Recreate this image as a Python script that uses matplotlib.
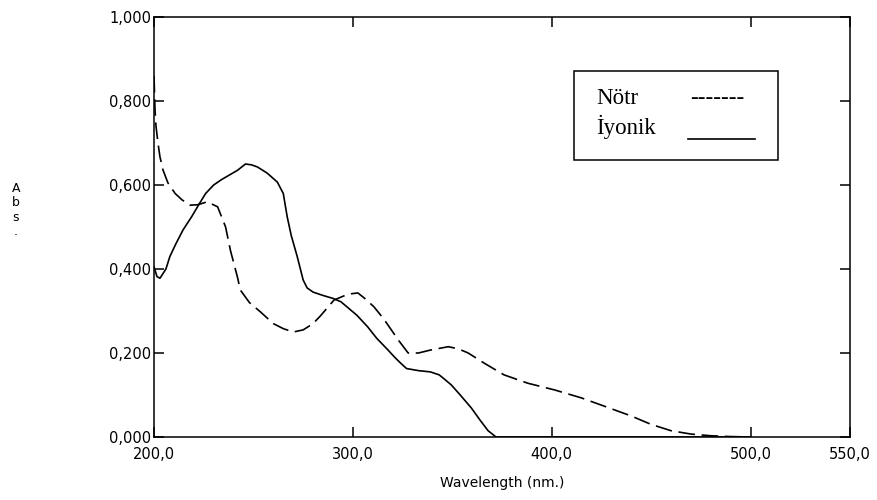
import matplotlib.pyplot as plt
from matplotlib.ticker import FuncFormatter

# Iyonik (solid)
iyonik_x = [200, 201.5, 203, 206, 208, 211, 214.6, 219, 223, 226, 230, 234, 238, 242, 246, 249,
            252, 257, 262, 265, 267, 269, 272, 275, 277, 280, 285, 290, 294, 297, 302, 307.5,
            312, 317.7, 321, 324, 327, 333, 339, 343.4, 346, 349.5, 354, 359.6, 364, 368, 372,
            380, 400, 450, 500]
iyonik_y = [0.405, 0.382, 0.378, 0.40, 0.43, 0.46, 0.493, 0.525, 0.557, 0.58, 0.60, 0.613, 0.624,
            0.635, 0.65, 0.648, 0.643, 0.628, 0.607, 0.58, 0.524, 0.48, 0.43, 0.374, 0.355, 0.345,
            0.337, 0.33, 0.322, 0.31, 0.29, 0.262, 0.235, 0.207, 0.19, 0.176, 0.163, 0.158, 0.155,
            0.148, 0.138, 0.124, 0.1, 0.069, 0.04, 0.015, 0.0, 0.0, 0.0, 0.0, 0.0]

# Notr (dashed)
notr_x = [200, 200.5, 201, 202, 203, 204.5, 207, 210.6, 214, 218, 222, 226.8, 232, 236, 238.4,
          242, 243.4, 248, 253.5, 260, 265, 270, 275, 280, 284, 290.5, 297.5, 302.5, 306, 310.6,
          315.7, 323, 327.8, 333, 339, 348, 353, 358, 366, 376, 388, 401.5, 415, 429, 440, 450,
          460, 470, 480, 490, 500]
notr_y = [0.86, 0.78, 0.74, 0.70, 0.667, 0.636, 0.605, 0.58, 0.565, 0.552, 0.553, 0.56, 0.548,
          0.5, 0.445, 0.38, 0.35, 0.32, 0.298, 0.27, 0.258, 0.25, 0.255, 0.27, 0.29, 0.326, 0.34,
          0.343, 0.33, 0.31, 0.28, 0.23, 0.2, 0.2, 0.207, 0.215, 0.21, 0.2, 0.176, 0.148, 0.128,
          0.112, 0.093, 0.069, 0.05, 0.03, 0.015, 0.007, 0.003, 0.001, 0.0]

x_ticks = [200, 300, 400, 500, 550]
y_ticks = [0, 0.2, 0.4, 0.6, 0.8, 1.0]

fig = plt.figure(figsize=(8.77, 5.0), dpi=100)
ax = fig.add_axes([0.1756, 0.126, 0.7936, 0.84])

ax.plot(iyonik_x, iyonik_y, color='black', lw=1.2)
ax.plot(notr_x, notr_y, color='black', lw=1.2, dashes=(10, 4))

ax.set_xlim(200, 550)
ax.set_ylim(0, 1.0)
ax.set_xticks(x_ticks)
ax.set_yticks(y_ticks)
ax.xaxis.set_major_formatter(FuncFormatter(lambda v, p: f'{v:.1f}'.replace('.', ',')))
ax.yaxis.set_major_formatter(FuncFormatter(lambda v, p: f'{v:.3f}'.replace('.', ',')))
ax.tick_params(direction='in', length=7, width=1.1, top=True, right=True,
               labelsize=10.5, pad=2)
ax.tick_params(axis='x', pad=7)
for s in ax.spines.values():
    s.set_linewidth(1.1)

ax.set_xlabel('Wavelength (nm.)', fontsize=10, labelpad=10)

fig.text(0.018, 0.58, 'A\nb\ns\n.', fontsize=9, ha='center', va='center', linespacing=1.15)

# hand-drawn legend box
ax.add_patch(plt.Rectangle((0.603, 0.66), 0.294, 0.211, transform=ax.transAxes,
                           fill=False, lw=1.1, color='black'))
ax.text(0.635, 0.793, 'Nötr', transform=ax.transAxes, family='Liberation Serif', fontsize=16.5)
ax.text(0.635, 0.721, 'İyonik', transform=ax.transAxes, family='Liberation Serif', fontsize=16.5)
ax.text(0.77, 0.793, '-------', transform=ax.transAxes, family='Liberation Serif', fontsize=16.5)
ax.plot([0.767, 0.8635], [0.71, 0.71], transform=ax.transAxes, color='black', lw=1.2)

plt.savefig('out.png', dpi=100)
